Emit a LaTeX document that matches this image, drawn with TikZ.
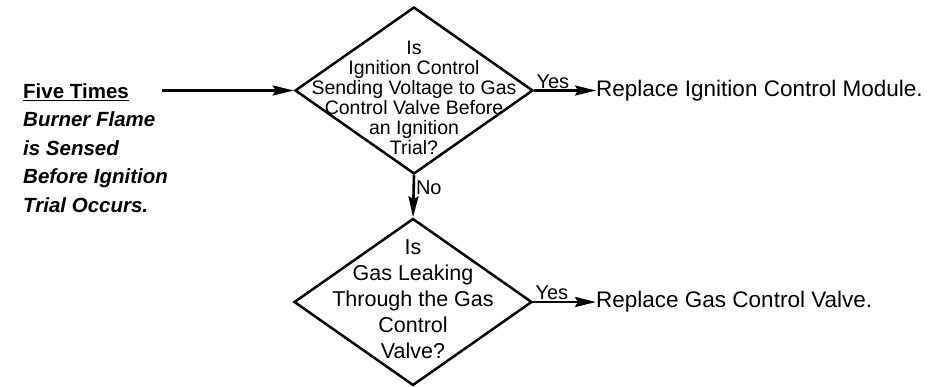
\documentclass[tikz,border=0pt]{standalone}
\usepackage{fontspec}
\setmainfont{Liberation Sans}
\usetikzlibrary{shapes.geometric,arrows.meta,positioning}
\tikzset{
  decision/.style={diamond,draw,line width=2.5pt,minimum width=238pt,minimum height=167pt,inner sep=0pt},
  flow/.style={line width=2.6pt,-{Stealth[length=21pt,width=10pt,inset=3pt]}},
  action/.style={anchor=west,inner sep=0pt,font=\fontsize{22.5}{27}\selectfont},
  answer/.style={inner sep=1pt,font=\fontsize{20}{22}\selectfont},
}
\begin{document}
\begin{tikzpicture}[x=1pt,y=-1pt]
\useasboundingbox (0,0) rectangle (928,387);
\node[decision] (q1) at (414,90.5) {};
\node[align=center,inner sep=0pt,font=\fontsize{19.5}{20}\selectfont] (q1text) at (414,97.5) {Is\\Ignition Control\\Sending Voltage to Gas\\Control Valve Before\\an Ignition\\Trial?};
\node[decision] (q2) at (413,302) {};
\node[align=center,inner sep=0pt,font=\fontsize{21.5}{26}\selectfont] (q2text) at (413,299.5) {Is\\Gas Leaking\\Through the Gas\\Control\\Valve?};
\node[align=left,anchor=west,inner sep=0pt,font=\fontsize{20.5}{28.5}\selectfont\bfseries] (cause) at (23,148) {\underline{Five Times}\\\textit{Burner Flame}\\\textit{is Sensed}\\\textit{Before Ignition}\\\textit{Trial Occurs.}};
\coordinate (start) at (162,90.5);
\node[action] (fix1) at (596,90.5) {Replace Ignition Control Module.};
\node[action] (fix2) at (596,302) {Replace Gas Control Valve.};
\draw[flow] (start) -- (q1.west);
\draw[flow] (q1.east) -- node[pos=0,anchor=south west,answer] {Yes} (fix1.west);
\draw[flow] (q1.south) -- node[pos=0.3,right,answer] {No} (q2.north);
\draw[flow] (q2.east) -- node[pos=0,anchor=south west,answer] {Yes} (fix2.west);
\end{tikzpicture}
\end{document}
